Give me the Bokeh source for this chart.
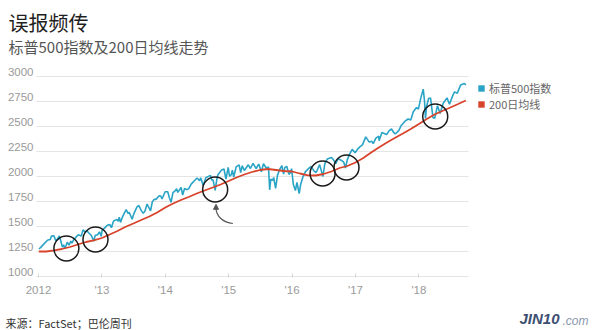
import pandas as pd
from bokeh.plotting import figure
from bokeh.models import (Range1d, FixedTicker, Label, Legend, LegendItem, LinearAxis,
                          Arrow, NormalHead, ColumnDataSource)
from bokeh.embed import file_html
from bokeh.resources import INLINE

# ---------------- data ----------------
sp_dates = [
    "2012-01-03", "2012-01-13", "2012-01-27", "2012-02-10", "2012-02-24", "2012-03-09", "2012-03-16", "2012-03-30",
    "2012-04-10", "2012-04-20", "2012-05-01", "2012-05-18", "2012-05-25", "2012-06-01", "2012-06-15", "2012-06-25",
    "2012-07-06", "2012-07-12", "2012-07-20", "2012-08-03", "2012-08-17", "2012-09-04", "2012-09-14", "2012-09-28",
    "2012-10-05", "2012-10-19", "2012-10-31", "2012-11-09", "2012-11-15", "2012-11-23", "2012-12-07", "2012-12-18",
    "2012-12-28",
    "2013-01-02", "2013-01-18", "2013-02-01", "2013-02-15", "2013-02-25", "2013-03-08", "2013-03-15", "2013-03-28",
    "2013-04-05", "2013-04-11", "2013-04-18", "2013-04-30", "2013-05-10", "2013-05-21", "2013-05-31", "2013-06-07",
    "2013-06-24", "2013-07-05", "2013-07-22", "2013-08-02", "2013-08-15", "2013-08-27", "2013-09-06", "2013-09-18",
    "2013-10-08", "2013-10-18", "2013-10-29", "2013-11-08", "2013-11-27", "2013-12-06", "2013-12-13", "2013-12-31",
    "2014-01-15", "2014-01-24", "2014-02-03", "2014-02-14", "2014-02-28", "2014-03-07", "2014-03-14", "2014-04-02",
    "2014-04-11", "2014-04-22", "2014-05-07", "2014-05-16", "2014-05-30", "2014-06-20", "2014-07-03", "2014-07-17",
    "2014-07-24", "2014-08-07", "2014-08-22", "2014-09-18", "2014-09-25", "2014-10-03", "2014-10-15", "2014-10-24",
    "2014-10-31", "2014-11-21", "2014-12-05", "2014-12-16", "2014-12-29",
    "2015-01-06", "2015-01-16", "2015-01-22", "2015-01-30", "2015-02-13", "2015-03-02", "2015-03-11", "2015-03-20",
    "2015-04-01", "2015-04-24", "2015-05-06", "2015-05-21", "2015-06-08", "2015-06-23", "2015-07-08", "2015-07-20",
    "2015-08-06", "2015-08-18", "2015-08-25", "2015-08-31", "2015-09-11", "2015-09-17", "2015-09-28", "2015-10-09",
    "2015-10-23", "2015-11-03", "2015-11-13", "2015-11-20", "2015-12-01", "2015-12-14", "2015-12-22", "2015-12-29",
    "2016-01-08", "2016-01-20", "2016-01-29", "2016-02-11", "2016-02-19", "2016-03-04", "2016-03-18", "2016-04-01",
    "2016-04-20", "2016-05-06", "2016-05-19", "2016-06-08", "2016-06-27", "2016-07-08", "2016-07-22", "2016-08-15",
    "2016-08-26", "2016-09-09", "2016-09-22", "2016-10-10", "2016-10-25", "2016-11-04", "2016-11-14", "2016-11-25",
    "2016-12-09", "2016-12-13", "2016-12-30",
    "2017-01-13", "2017-01-26", "2017-02-10", "2017-03-01", "2017-03-21", "2017-04-05", "2017-04-13", "2017-04-28",
    "2017-05-15", "2017-05-17", "2017-06-02", "2017-06-29", "2017-07-14", "2017-07-27", "2017-08-10", "2017-08-18",
    "2017-09-08", "2017-09-20", "2017-10-13", "2017-10-31", "2017-11-15", "2017-11-30", "2017-12-18", "2017-12-29",
    "2018-01-12", "2018-01-26", "2018-02-02", "2018-02-08", "2018-02-14", "2018-02-26", "2018-03-09", "2018-03-23",
    "2018-04-02", "2018-04-18", "2018-05-03", "2018-05-21", "2018-06-12", "2018-06-26", "2018-07-13", "2018-07-25",
    "2018-08-10", "2018-08-29", "2018-09-20", "2018-09-28",
]
sp_close = [
    1277, 1289, 1316, 1342, 1365, 1370, 1404, 1408,
    1358, 1378, 1405, 1295, 1317, 1278, 1343, 1314,
    1354, 1334, 1362, 1391, 1418, 1404, 1466, 1441,
    1461, 1433, 1412, 1380, 1353, 1409, 1418, 1446,
    1402,
    1462, 1486, 1513, 1520, 1488, 1551, 1561, 1569,
    1553, 1593, 1541, 1597, 1634, 1669, 1631, 1643,
    1573, 1632, 1696, 1710, 1661, 1631, 1655, 1725,
    1656, 1745, 1771, 1771, 1807, 1805, 1775, 1848,
    1848, 1790, 1742, 1838, 1859, 1878, 1841, 1890,
    1815, 1879, 1868, 1878, 1924, 1963, 1985, 1958,
    1988, 1910, 1988, 2011, 1965, 1967, 1862, 1965,
    2018, 2064, 2075, 1973, 2091,
    2002, 2019, 2063, 1995, 2097, 2117, 2040, 2108,
    2060, 2117, 2080, 2131, 2080, 2124, 2047, 2128,
    2083, 2097, 1867, 1972, 1961, 1990, 1881, 2014,
    2075, 2109, 2023, 2089, 2102, 2021, 2038, 2078,
    1922, 1859, 1940, 1829, 1918, 1999, 2049, 2073,
    2102, 2057, 2040, 2119, 2000, 2129, 2175, 2190,
    2169, 2128, 2177, 2163, 2143, 2085, 2164, 2213,
    2259, 2271, 2238,
    2274, 2296, 2316, 2396, 2344, 2352, 2329, 2384,
    2402, 2357, 2439, 2419, 2459, 2475, 2438, 2425,
    2461, 2508, 2553, 2575, 2564, 2647, 2690, 2674,
    2786, 2873, 2762, 2581, 2698, 2780, 2786, 2588,
    2582, 2708, 2630, 2733, 2786, 2723, 2801, 2846,
    2833, 2914, 2931, 2914,
]

ma_dates = [
    "2012-01-03", "2012-02-15", "2012-04-01", "2012-05-15", "2012-07-01", "2012-08-15", "2012-10-01", "2012-11-15",
    "2013-01-01", "2013-02-15", "2013-04-01", "2013-05-15", "2013-07-01", "2013-08-15", "2013-10-01", "2013-11-15",
    "2014-01-01", "2014-02-15", "2014-04-01", "2014-05-15", "2014-07-01", "2014-08-15", "2014-10-01", "2014-11-15",
    "2015-01-01", "2015-02-15", "2015-04-01", "2015-05-15", "2015-07-01", "2015-08-15", "2015-10-01", "2015-11-15",
    "2016-01-01", "2016-02-15", "2016-04-01", "2016-05-15", "2016-07-01", "2016-08-15", "2016-10-01", "2016-11-15",
    "2017-01-01", "2017-02-15", "2017-04-01", "2017-05-15", "2017-07-01", "2017-08-15", "2017-10-01", "2017-11-15",
    "2018-01-01", "2018-02-15", "2018-04-01", "2018-05-15", "2018-07-01", "2018-08-15", "2018-09-28",
]
ma_values = [
    1250, 1250, 1262, 1275, 1295, 1320, 1345, 1362,
    1385, 1420, 1455, 1495, 1530, 1565, 1600, 1640,
    1690, 1730, 1765, 1795, 1830, 1860, 1890, 1920,
    1955, 1990, 2020, 2045, 2065, 2075, 2065, 2055,
    2050, 2030, 2012, 2010, 2025, 2050, 2085, 2105,
    2140, 2185, 2240, 2290, 2340, 2385, 2430, 2475,
    2525, 2575, 2620, 2655, 2690, 2725, 2760,
]

# circled "false signal" spots (date, index level)
mark_dates = ["2012-06-10", "2012-11-25", "2014-10-15", "2016-06-25", "2016-11-10", "2018-04-05"]
mark_values = [1280, 1370, 1870, 2030, 2090, 2600]

year_ticks = [2012, 2013, 2014, 2015, 2016, 2017, 2018]
year_labels = ["2012", "'13", "'14", "'15", "'16", "'17", "'18"]
y_ticks = [1000, 1250, 1500, 1750, 2000, 2250, 2500, 2750, 3000]

title = "误报频传"
subtitle = "标普500指数及200日均线走势"
source_text = "来源：FactSet；巴伦周刊"
legend_labels = ["标普500指数", "200日均线"]
logo_text = ["JIN10", ".com"]


def to_year(ds):
    d = pd.to_datetime(pd.Series(ds))
    days = d.dt.is_leap_year.map({True: 366.0, False: 365.0})
    return (d.dt.year + (d.dt.dayofyear - 1) / days).tolist()


BLUE = "#2aa4c6"
RED = "#d8432c"
CJK = "Noto Sans CJK SC"
W, H = 600, 330

# scales: 2012 sits 38 px from the left, 63.4 px per year; 3000 sits 76 px from top, 10 px per 100
PXY = 63.4
X0 = 2012 - 38 / PXY
def xd(px):
    return X0 + px / PXY

Y_TOP = 3000 + 76 * 10
Y_BOT = Y_TOP - H * 10

p = figure(width=W, height=H, output_backend="svg", toolbar_location=None,
           x_range=Range1d(X0, xd(W)), y_range=Range1d(Y_BOT, Y_TOP),
           x_axis_type=None, y_axis_type=None,
           min_border=0, min_border_left=0, min_border_right=0, min_border_top=0, min_border_bottom=0)
p.outline_line_color = None
p.background_fill_color = "white"
p.border_fill_color = "white"
p.xgrid.visible = False
p.ygrid.visible = False

# horizontal gridlines spanning the plotting area
p.segment(x0=[xd(36)] * len(y_ticks), x1=[xd(468)] * len(y_ticks), y0=y_ticks, y1=y_ticks,
          line_color="#e4e4e4", line_width=1)

# y axis: labels sit just above their gridline (label range shifted 50 points = 5 px)
p.extra_y_ranges = {"labels": Range1d(Y_BOT - 50, Y_TOP - 50)}
yaxis = LinearAxis(y_range_name="labels", ticker=FixedTicker(ticks=y_ticks), fixed_location=xd(35))
yaxis.axis_line_color = None
yaxis.major_tick_line_color = None
yaxis.major_tick_in = 0
yaxis.major_tick_out = 0
yaxis.minor_tick_line_color = None
yaxis.minor_tick_in = 0
yaxis.minor_tick_out = 0
yaxis.major_label_standoff = 2
yaxis.major_label_text_font = "Liberation Sans"
yaxis.major_label_text_font_size = "11.5px"
yaxis.major_label_text_color = "#9a9a9a"
p.add_layout(yaxis, "left")

# x axis along the 1000 gridline
xaxis = LinearAxis(ticker=FixedTicker(ticks=year_ticks), fixed_location=990)
xaxis.major_label_overrides = {t: l for t, l in zip(year_ticks, year_labels)}
xaxis.axis_line_color = None
xaxis.major_tick_in = 4
xaxis.major_tick_out = 0
xaxis.major_tick_line_color = "#d6d6d6"
xaxis.minor_tick_line_color = None
xaxis.major_label_standoff = 6
xaxis.major_label_text_font = "Liberation Sans"
xaxis.major_label_text_font_size = "11.5px"
xaxis.major_label_text_color = "#9a9a9a"
p.add_layout(xaxis, "below")

# series
src_sp = ColumnDataSource(dict(x=to_year(sp_dates), y=sp_close))
src_ma = ColumnDataSource(dict(x=to_year(ma_dates), y=ma_values))
p.line("x", "y", source=src_sp, line_color=BLUE, line_width=1.6)
p.line("x", "y", source=src_ma, line_color=RED, line_width=1.8)

# circles
src_mk = ColumnDataSource(dict(x=to_year(mark_dates), y=mark_values))
p.scatter("x", "y", source=src_mk, marker="circle", size=25, fill_color=None,
          line_color="#1a1a1a", line_width=1.5)

# curved arrow pointing at the Oct-2014 dip
arrow_x = to_year(["2015-01-25", "2014-11-30", "2014-10-20", "2014-10-20"])
p.bezier(x0=[arrow_x[0]], y0=[1530], x1=[arrow_x[3]], y1=[1690],
         cx0=[arrow_x[1]], cy0=[1540], cx1=[arrow_x[2]], cy1=[1600],
         line_color="#555555", line_width=1.2)
p.add_layout(Arrow(end=NormalHead(size=5, fill_color="#555555", line_color="#555555"),
                   x_start=arrow_x[3], y_start=1680, x_end=arrow_x[3], y_end=1722,
                   line_color="#555555", line_width=1.2))

# legend with square swatches (swatch renderers sit outside the visible range)
off_x = xd(W + 50)
r_b = p.quad(left=[off_x], right=[off_x + 1], top=[Y_BOT - 100], bottom=[Y_BOT - 200],
             fill_color=BLUE, line_color=None)
r_r = p.quad(left=[off_x], right=[off_x + 1], top=[Y_BOT - 100], bottom=[Y_BOT - 200],
             fill_color=RED, line_color=None)
legend = Legend(items=[LegendItem(label=legend_labels[0], renderers=[r_b]),
                       LegendItem(label=legend_labels[1], renderers=[r_r])],
                location=(477, H - 112), padding=0, margin=0, spacing=0,
                glyph_width=8, glyph_height=8, label_height=16, label_standoff=4,
                label_text_font=CJK, label_text_font_size="11px", label_text_color="#666666",
                border_line_color=None, background_fill_alpha=0)
p.add_layout(legend)

# titles / footer (screen units, origin at bottom-left of the canvas)
p.add_layout(Label(x=8, y=H - 21.5, x_units="screen", y_units="screen", text=title,
                   text_font=CJK, text_font_size="20px", text_color="#1e1e1e",
                   text_baseline="middle"))
p.add_layout(Label(x=8, y=H - 46, x_units="screen", y_units="screen", text=subtitle,
                   text_font=CJK, text_font_size="15px", text_color="#555555",
                   text_baseline="middle"))
p.add_layout(Label(x=5, y=H - 322, x_units="screen", y_units="screen", text=source_text,
                   text_font=CJK, text_font_size="11px", text_color="#333333",
                   text_baseline="middle"))
p.add_layout(Label(x=519, y=H - 318, x_units="screen", y_units="screen", text=logo_text[0],
                   text_font="Liberation Sans", text_font_size="15px", text_font_style="bold italic",
                   text_color="#3c4e72", text_baseline="middle"))
p.add_layout(Label(x=562, y=H - 320, x_units="screen", y_units="screen", text=logo_text[1],
                   text_font="Liberation Sans", text_font_size="12px", text_font_style="italic",
                   text_color="#8a96aa", text_baseline="middle"))

open("out.html", "w").write(file_html(p, INLINE))
